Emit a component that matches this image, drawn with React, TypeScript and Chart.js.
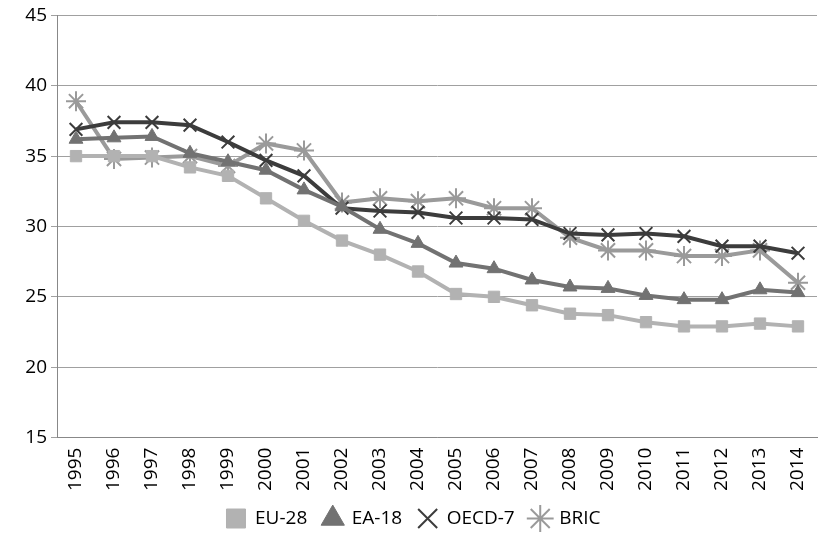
import React, { useEffect, useRef } from "react";
import { Chart, registerables } from "chart.js";
Chart.register(...registerables);

const years = ["1995","1996","1997","1998","1999","2000","2001","2002","2003","2004","2005","2006","2007","2008","2009","2010","2011","2012","2013","2014"];
const eu28 = [35.0,35.0,35.0,34.2,33.6,32.0,30.4,29.0,28.0,26.8,25.2,25.0,24.4,23.8,23.7,23.2,22.9,22.9,23.1,22.9];
const ea18 = [36.2,36.3,36.4,35.2,34.6,34.0,32.6,31.4,29.8,28.8,27.4,27.0,26.2,25.7,25.6,25.1,24.8,24.8,25.5,25.3];
const oecd7 = [36.9,37.4,37.4,37.2,36.0,34.7,33.6,31.3,31.1,31.0,30.6,30.6,30.5,29.5,29.4,29.5,29.3,28.6,28.6,28.1];
const bric = [38.9,34.8,34.9,35.0,34.3,35.9,35.4,31.7,32.0,31.8,32.0,31.3,31.3,29.2,28.3,28.3,27.9,27.9,28.3,26.0];

export default function App() {
  const ref = useRef<HTMLCanvasElement>(null);
  useEffect(() => {
    document.body.style.margin = "0";
    const mk = (label: string, data: number[], color: string, ps: any, r: number) => ({
      label, data, borderColor: color, backgroundColor: color, pointStyle: ps,
      pointRadius: r, pointBorderWidth: ps === "crossRot" || ps === "star" ? 2 : 1,
      borderWidth: 4, tension: 0,
    });
    const font = { family: "Open Sans", size: 19 };
    const c = new Chart(ref.current!, {
      type: "line",
      data: {
        labels: years,
        datasets: [
          mk("EU-28", eu28, "#b2b2b2", "rect", 8),
          mk("EA-18", ea18, "#727272", "triangle", 8),
          mk("OECD-7", oecd7, "#3c3c3c", "crossRot", 9),
          mk("BRIC", bric, "#9a9a9a", "star", 10),
        ],
      },
      options: {
        animation: false, responsive: false,
        layout: { padding: { top: 4, right: 2 } },
        scales: {
          x: {
            offset: true,
            grid: { display: false, drawOnChartArea: false },
            border: { color: "#888", width: 1 },
            ticks: { color: "#000", font, maxRotation: 90, minRotation: 90, autoSkip: false, padding: 2 },
          },
          y: {
            min: 15, max: 45,
            ticks: { stepSize: 5, color: "#000", font, padding: 4 },
            afterFit: (s: any) => { s.width = 57; },
            grid: { color: "#a0a0a0", tickLength: 6 },
            border: { color: "#888" },
          },
        },
        plugins: {
          legend: {
            position: "bottom",
            labels: { usePointStyle: true, color: "#000", font, boxWidth: 40, padding: 16 },
          },
          tooltip: { enabled: false },
        },
      },
    });
    return () => c.destroy();
  }, []);
  return <canvas ref={ref} width={829} height={538} style={{ display: "block" }} />;
}
